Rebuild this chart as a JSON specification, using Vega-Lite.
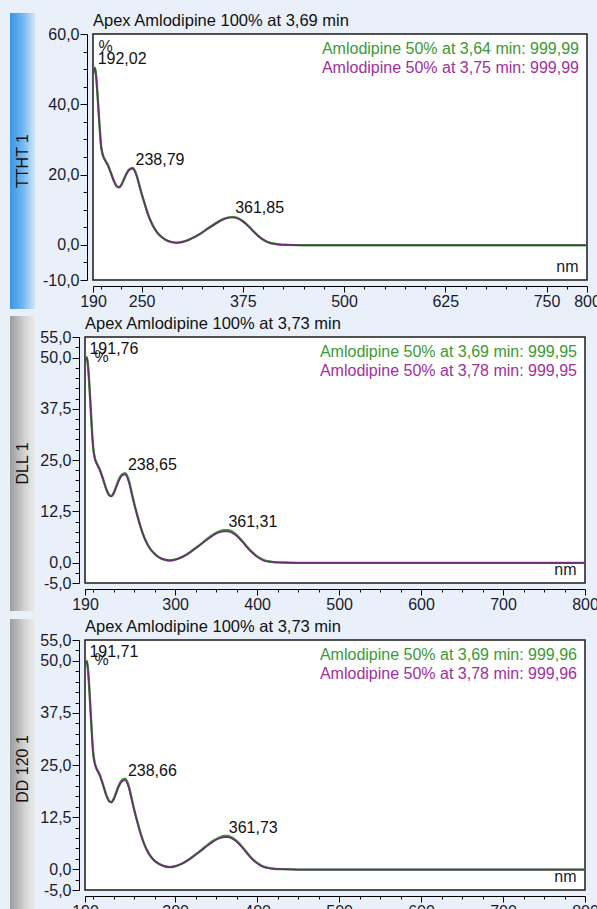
{
  "$schema": "https://vega.github.io/schema/vega-lite/v6.json",
  "background": "#e9f0fa",
  "padding": {"left": 10, "top": 12, "right": 0, "bottom": 0},
  "spacing": 5,
  "datasets": {
    "s1": [
      {"nm":190,"p":48.6,"g":48.7},{"nm":191,"p":49.9,"g":50.0},{"nm":192,"p":50.3,"g":50.4},{"nm":193,"p":49.6,"g":49.7},
      {"nm":194,"p":47.6,"g":47.7},{"nm":195,"p":44.6,"g":44.7},{"nm":196,"p":41.1,"g":41.2},{"nm":197,"p":37.6,"g":37.7},
      {"nm":198,"p":34.1,"g":34.2},{"nm":199,"p":30.7,"g":30.8},{"nm":200,"p":28.1,"g":28.2},{"nm":202,"p":25.6,"g":25.7},
      {"nm":205,"p":24.0,"g":24.1},{"nm":208,"p":22.8,"g":22.9},{"nm":212,"p":20.5,"g":20.6},{"nm":216,"p":18.0,"g":18.1},
      {"nm":219,"p":16.7,"g":16.8},{"nm":222,"p":16.3,"g":16.4},{"nm":225,"p":17.0,"g":17.1},{"nm":228,"p":18.5,"g":18.6},
      {"nm":231,"p":20.0,"g":20.1},{"nm":234,"p":21.1,"g":21.3},{"nm":237,"p":21.6,"g":21.8},{"nm":239,"p":21.7,"g":21.9},
      {"nm":241,"p":21.2,"g":21.4},{"nm":244,"p":19.5,"g":19.7},{"nm":247,"p":17.0,"g":17.2},{"nm":250,"p":14.5,"g":14.6},
      {"nm":254,"p":11.5,"g":11.6},{"nm":258,"p":8.6,"g":8.7},{"nm":262,"p":6.3,"g":6.4},{"nm":266,"p":4.6,"g":4.6},
      {"nm":270,"p":3.3,"g":3.3},{"nm":275,"p":2.2,"g":2.2},{"nm":280,"p":1.4,"g":1.4},{"nm":287,"p":0.8,"g":0.8},
      {"nm":294,"p":0.6,"g":0.6},{"nm":300,"p":0.8,"g":0.8},{"nm":308,"p":1.4,"g":1.4},{"nm":316,"p":2.3,"g":2.3},
      {"nm":324,"p":3.4,"g":3.4},{"nm":332,"p":4.6,"g":4.7},{"nm":340,"p":5.8,"g":5.9},{"nm":347,"p":6.8,"g":6.9},
      {"nm":354,"p":7.5,"g":7.6},{"nm":360,"p":7.8,"g":7.9},{"nm":364,"p":7.8,"g":7.9},{"nm":368,"p":7.6,"g":7.7},
      {"nm":373,"p":7.0,"g":7.1},{"nm":378,"p":6.1,"g":6.2},{"nm":383,"p":5.0,"g":5.1},{"nm":388,"p":3.8,"g":3.9},
      {"nm":393,"p":2.7,"g":2.8},{"nm":398,"p":1.8,"g":1.8},{"nm":403,"p":1.1,"g":1.1},{"nm":408,"p":0.6,"g":0.6},
      {"nm":414,"p":0.3,"g":0.3},{"nm":420,"p":0.1,"g":0.1},{"nm":430,"p":0.0,"g":0.0},{"nm":450,"p":-0.1,"g":-0.1},
      {"nm":500,"p":-0.1,"g":-0.1},{"nm":600,"p":-0.1,"g":-0.1},{"nm":700,"p":-0.1,"g":-0.1},{"nm":800,"p":-0.1,"g":-0.1}
    ],
    "s2": [
      {"nm":190,"p":49.2,"g":49.3},{"nm":191,"p":49.8,"g":49.9},{"nm":192,"p":50.0,"g":50.1},{"nm":193,"p":49.1,"g":49.2},
      {"nm":194,"p":47.1,"g":47.2},{"nm":195,"p":44.2,"g":44.3},{"nm":196,"p":40.8,"g":40.9},{"nm":197,"p":37.3,"g":37.4},
      {"nm":198,"p":33.8,"g":33.9},{"nm":199,"p":30.5,"g":30.6},{"nm":200,"p":27.9,"g":28.0},{"nm":202,"p":25.4,"g":25.5},
      {"nm":205,"p":23.8,"g":23.9},{"nm":208,"p":22.6,"g":22.7},{"nm":212,"p":20.3,"g":20.4},{"nm":216,"p":17.8,"g":17.9},
      {"nm":219,"p":16.5,"g":16.6},{"nm":222,"p":16.1,"g":16.2},{"nm":225,"p":16.8,"g":17.0},{"nm":228,"p":18.3,"g":18.5},
      {"nm":231,"p":19.8,"g":20.1},{"nm":234,"p":20.9,"g":21.2},{"nm":237,"p":21.4,"g":21.7},{"nm":239,"p":21.5,"g":21.8},
      {"nm":241,"p":21.0,"g":21.3},{"nm":244,"p":19.3,"g":19.6},{"nm":247,"p":16.8,"g":17.0},{"nm":250,"p":14.3,"g":14.4},
      {"nm":254,"p":11.3,"g":11.4},{"nm":258,"p":8.5,"g":8.6},{"nm":262,"p":6.2,"g":6.3},{"nm":266,"p":4.5,"g":4.5},
      {"nm":270,"p":3.2,"g":3.2},{"nm":275,"p":2.1,"g":2.1},{"nm":280,"p":1.3,"g":1.3},{"nm":287,"p":0.7,"g":0.7},
      {"nm":294,"p":0.5,"g":0.5},{"nm":300,"p":0.7,"g":0.7},{"nm":308,"p":1.3,"g":1.3},{"nm":316,"p":2.2,"g":2.2},
      {"nm":324,"p":3.3,"g":3.4},{"nm":332,"p":4.5,"g":4.6},{"nm":340,"p":5.7,"g":5.9},{"nm":347,"p":6.7,"g":6.9},
      {"nm":354,"p":7.4,"g":7.6},{"nm":360,"p":7.6,"g":7.9},{"nm":364,"p":7.6,"g":7.9},{"nm":368,"p":7.4,"g":7.7},
      {"nm":373,"p":6.8,"g":7.0},{"nm":378,"p":5.9,"g":6.1},{"nm":383,"p":4.8,"g":5.0},{"nm":388,"p":3.6,"g":3.8},
      {"nm":393,"p":2.6,"g":2.7},{"nm":398,"p":1.7,"g":1.8},{"nm":403,"p":1.0,"g":1.1},{"nm":408,"p":0.5,"g":0.6},
      {"nm":414,"p":0.2,"g":0.3},{"nm":420,"p":0.1,"g":0.1},{"nm":430,"p":0.0,"g":0.0},{"nm":450,"p":-0.1,"g":-0.1},
      {"nm":500,"p":-0.1,"g":-0.1},{"nm":600,"p":-0.1,"g":-0.1},{"nm":700,"p":-0.1,"g":-0.1},{"nm":800,"p":-0.1,"g":-0.1}
    ],
    "s3": [
      {"nm":190,"p":49.1,"g":49.2},{"nm":191,"p":49.8,"g":49.9},{"nm":192,"p":49.9,"g":50.0},{"nm":193,"p":49.0,"g":49.1},
      {"nm":194,"p":47.0,"g":47.1},{"nm":195,"p":44.1,"g":44.2},{"nm":196,"p":40.7,"g":40.8},{"nm":197,"p":37.2,"g":37.3},
      {"nm":198,"p":33.7,"g":33.8},{"nm":199,"p":30.4,"g":30.5},{"nm":200,"p":27.8,"g":27.9},{"nm":202,"p":25.3,"g":25.4},
      {"nm":205,"p":23.7,"g":23.8},{"nm":208,"p":22.5,"g":22.6},{"nm":212,"p":20.2,"g":20.3},{"nm":216,"p":17.7,"g":17.8},
      {"nm":219,"p":16.4,"g":16.5},{"nm":222,"p":16.0,"g":16.1},{"nm":225,"p":16.7,"g":16.9},{"nm":228,"p":18.2,"g":18.4},
      {"nm":231,"p":19.7,"g":20.0},{"nm":234,"p":20.8,"g":21.1},{"nm":237,"p":21.3,"g":21.6},{"nm":239,"p":21.4,"g":21.7},
      {"nm":241,"p":20.9,"g":21.2},{"nm":244,"p":19.2,"g":19.5},{"nm":247,"p":16.7,"g":16.9},{"nm":250,"p":14.2,"g":14.3},
      {"nm":254,"p":11.2,"g":11.3},{"nm":258,"p":8.4,"g":8.5},{"nm":262,"p":6.1,"g":6.2},{"nm":266,"p":4.4,"g":4.4},
      {"nm":270,"p":3.1,"g":3.1},{"nm":275,"p":2.0,"g":2.0},{"nm":280,"p":1.3,"g":1.3},{"nm":287,"p":0.7,"g":0.7},
      {"nm":294,"p":0.5,"g":0.5},{"nm":300,"p":0.7,"g":0.7},{"nm":308,"p":1.3,"g":1.3},{"nm":316,"p":2.2,"g":2.2},
      {"nm":324,"p":3.3,"g":3.4},{"nm":332,"p":4.5,"g":4.6},{"nm":340,"p":5.7,"g":5.9},{"nm":347,"p":6.7,"g":6.9},
      {"nm":354,"p":7.4,"g":7.6},{"nm":360,"p":7.7,"g":8.0},{"nm":364,"p":7.7,"g":8.0},{"nm":368,"p":7.5,"g":7.7},
      {"nm":373,"p":6.9,"g":7.1},{"nm":378,"p":6.0,"g":6.2},{"nm":383,"p":4.9,"g":5.1},{"nm":388,"p":3.7,"g":3.9},
      {"nm":393,"p":2.6,"g":2.7},{"nm":398,"p":1.7,"g":1.8},{"nm":403,"p":1.0,"g":1.1},{"nm":408,"p":0.5,"g":0.6},
      {"nm":414,"p":0.2,"g":0.3},{"nm":420,"p":0.1,"g":0.1},{"nm":430,"p":0.0,"g":0.0},{"nm":450,"p":-0.1,"g":-0.1},
      {"nm":500,"p":-0.1,"g":-0.1},{"nm":600,"p":-0.1,"g":-0.1},{"nm":700,"p":-0.1,"g":-0.1},{"nm":800,"p":-0.1,"g":-0.1}
    ],
    "k1": [{"nm":192.02,"v":50.3,"label":"192,02"},{"nm":238.79,"v":21.7,"label":"238,79"},{"nm":361.85,"v":7.8,"label":"361,85"}],
    "k2": [{"nm":191.76,"v":50.0,"label":"191,76"},{"nm":238.65,"v":21.5,"label":"238,65"},{"nm":361.31,"v":7.6,"label":"361,31"}],
    "k3": [{"nm":191.71,"v":49.9,"label":"191,71"},{"nm":238.66,"v":21.4,"label":"238,66"},{"nm":361.73,"v":7.7,"label":"361,73"}],
    "g1": [{"label":"Amlodipine 50% at 3,64 min: 999,99"}],
    "p1": [{"label":"Amlodipine 50% at 3,75 min: 999,99"}],
    "g2": [{"label":"Amlodipine 50% at 3,69 min: 999,95"}],
    "p2": [{"label":"Amlodipine 50% at 3,78 min: 999,95"}],
    "g3": [{"label":"Amlodipine 50% at 3,69 min: 999,96"}],
    "p3": [{"label":"Amlodipine 50% at 3,78 min: 999,96"}],
    "one": [{"k": 1}]
  },
  "vconcat": [
    {
      "spacing": 5,
      "hconcat": [
        {
          "width": 25, "height": 296, "view": {"stroke": null},
          "data": {"values": [{"tab": "TTHT 1"}]},
          "layer": [
            {"mark": {"type": "rect", "color": {"gradient": "linear", "x1": 0, "x2": 1, "y1": 0, "y2": 0,
              "stops": [{"offset": 0, "color": "#3a96e5"}, {"offset": 0.5, "color": "#6fb5ef"}, {"offset": 0.85, "color": "#b4d8f6"}, {"offset": 1, "color": "#cfe5f9"}]}}, "encoding": {}},
            {"mark": {"type": "text", "angle": 270, "fontSize": 16, "color": "#111", "align": "center", "baseline": "middle"}, "encoding": {"text": {"field": "tab"}}}
          ]
        },
        {"spacing": 0, "bounds": "flush", "vconcat": [
          {"width": 494, "height": 21, "view": {"stroke": null, "fill": null},
           "title": {"text": "Apex Amlodipine 100% at 3,69 min"},
           "data": {"name": "one"}, "mark": {"type": "rect", "opacity": 0}, "encoding": {}},
          {
          "width": 494, "height": 246,
          "layer": [
            {"data": {"name": "s1"}, "transform": [{"fold": ["g", "p"], "as": ["series", "v"]}],
             "mark": {"type": "line", "interpolate": "monotone", "clip": true},
             "encoding": {
               "x": {"field": "nm", "type": "quantitative", "scale": {"domain": [190, 800], "nice": false, "zero": false},
                 "axis": {"values": [190,200,225,250,275,300,325,350,375,400,425,450,475,500,525,550,575,600,625,650,675,700,725,750,775,800],
                   "labelExpr": "indexof([190,250,375,500,625,750,800], datum.value) >= 0 ? datum.label : ''",
                   "tickSize": {"condition": {"test": "indexof([190,250,375,500,625,750,800], datum.value) >= 0", "value": 6}, "value": 3},
                   "title": "nm", "titleX": 485, "titleY": -20, "titleAlign": "right", "titleBaseline": "middle", "titleAngle": 0}},
               "y": {"field": "v", "type": "quantitative", "scale": {"domain": [-10, 60], "nice": false, "zero": false},
                 "axis": {"values": [-10,-5,0,5,10,15,20,25,30,35,40,45,50,55,60],
                   "labelExpr": "indexof([60,40,20,0,-10], datum.value) >= 0 ? replace(replace(format(datum.value, '.1f'), '.', ','), '\u2212', '-') : ''",
                   "tickSize": {"condition": {"test": "indexof([60,40,20,0,-10], datum.value) >= 0", "value": 7}, "value": 4},
                   "title": "%", "titleAngle": 0, "titleX": 11, "titleY": 12, "titleAlign": "left", "titleBaseline": "middle",
                   "minExtent": 46, "maxExtent": 46}},
               "color": {"field": "series", "type": "nominal", "scale": {"domain": ["g", "p"], "range": ["#3c9a32", "#6e2a78"]}, "legend": null},
               "strokeWidth": {"field": "series", "type": "nominal", "scale": {"domain": ["g", "p"], "range": [2.4, 1.6]}, "legend": null}}},
            {"data": {"name": "k1"}, "mark": {"type": "text", "align": "left", "baseline": "alphabetic", "dx": 3, "dy": -4, "color": "#111"},
             "encoding": {
               "x": {"field": "nm", "type": "quantitative", "scale": {"domain": [190, 800], "nice": false, "zero": false},
                 "axis": {"values": [190,200,225,250,275,300,325,350,375,400,425,450,475,500,525,550,575,600,625,650,675,700,725,750,775,800],
                   "labelExpr": "indexof([190,250,375,500,625,750,800], datum.value) >= 0 ? datum.label : ''",
                   "tickSize": {"condition": {"test": "indexof([190,250,375,500,625,750,800], datum.value) >= 0", "value": 6}, "value": 3},
                   "title": "nm", "titleX": 485, "titleY": -20, "titleAlign": "right", "titleBaseline": "middle", "titleAngle": 0}},
               "y": {"field": "v", "type": "quantitative", "scale": {"domain": [-10, 60], "nice": false, "zero": false},
                 "axis": {"values": [-10,-5,0,5,10,15,20,25,30,35,40,45,50,55,60],
                   "labelExpr": "indexof([60,40,20,0,-10], datum.value) >= 0 ? replace(replace(format(datum.value, '.1f'), '.', ','), '\u2212', '-') : ''",
                   "tickSize": {"condition": {"test": "indexof([60,40,20,0,-10], datum.value) >= 0", "value": 7}, "value": 4},
                   "title": "%", "titleAngle": 0, "titleX": 11, "titleY": 12, "titleAlign": "left", "titleBaseline": "middle",
                   "minExtent": 46, "maxExtent": 46}},
               "text": {"field": "label"}}},
            {"data": {"name": "g1"},
             "mark": {"type": "text", "align": "right", "baseline": "middle", "dx": -8, "dy": 15, "color": "#3c9a32"},
             "encoding": {
               "x": {"datum": 800, "type": "quantitative", "scale": {"domain": [190, 800], "nice": false, "zero": false},
                 "axis": {"values": [190,200,225,250,275,300,325,350,375,400,425,450,475,500,525,550,575,600,625,650,675,700,725,750,775,800],
                   "labelExpr": "indexof([190,250,375,500,625,750,800], datum.value) >= 0 ? datum.label : ''",
                   "tickSize": {"condition": {"test": "indexof([190,250,375,500,625,750,800], datum.value) >= 0", "value": 6}, "value": 3},
                   "title": "nm", "titleX": 485, "titleY": -20, "titleAlign": "right", "titleBaseline": "middle", "titleAngle": 0}},
               "y": {"datum": 60, "type": "quantitative", "scale": {"domain": [-10, 60], "nice": false, "zero": false},
                 "axis": {"values": [-10,-5,0,5,10,15,20,25,30,35,40,45,50,55,60],
                   "labelExpr": "indexof([60,40,20,0,-10], datum.value) >= 0 ? replace(replace(format(datum.value, '.1f'), '.', ','), '\u2212', '-') : ''",
                   "tickSize": {"condition": {"test": "indexof([60,40,20,0,-10], datum.value) >= 0", "value": 7}, "value": 4},
                   "title": "%", "titleAngle": 0, "titleX": 11, "titleY": 12, "titleAlign": "left", "titleBaseline": "middle",
                   "minExtent": 46, "maxExtent": 46}},
               "text": {"field": "label"}}},
            {"data": {"name": "p1"},
             "mark": {"type": "text", "align": "right", "baseline": "middle", "dx": -8, "dy": 34, "color": "#a0309e"},
             "encoding": {
               "x": {"datum": 800, "type": "quantitative", "scale": {"domain": [190, 800], "nice": false, "zero": false},
                 "axis": {"values": [190,200,225,250,275,300,325,350,375,400,425,450,475,500,525,550,575,600,625,650,675,700,725,750,775,800],
                   "labelExpr": "indexof([190,250,375,500,625,750,800], datum.value) >= 0 ? datum.label : ''",
                   "tickSize": {"condition": {"test": "indexof([190,250,375,500,625,750,800], datum.value) >= 0", "value": 6}, "value": 3},
                   "title": "nm", "titleX": 485, "titleY": -20, "titleAlign": "right", "titleBaseline": "middle", "titleAngle": 0}},
               "y": {"datum": 60, "type": "quantitative", "scale": {"domain": [-10, 60], "nice": false, "zero": false},
                 "axis": {"values": [-10,-5,0,5,10,15,20,25,30,35,40,45,50,55,60],
                   "labelExpr": "indexof([60,40,20,0,-10], datum.value) >= 0 ? replace(replace(format(datum.value, '.1f'), '.', ','), '\u2212', '-') : ''",
                   "tickSize": {"condition": {"test": "indexof([60,40,20,0,-10], datum.value) >= 0", "value": 7}, "value": 4},
                   "title": "%", "titleAngle": 0, "titleX": 11, "titleY": 12, "titleAlign": "left", "titleBaseline": "middle",
                   "minExtent": 46, "maxExtent": 46}},
               "text": {"field": "label"}}}
          ]
        }]}
      ]
    },
    {
      "spacing": 3,
      "hconcat": [
        {
          "width": 25, "height": 295, "view": {"stroke": null},
          "data": {"values": [{"tab": "DLL 1"}]},
          "layer": [
            {"mark": {"type": "rect", "color": {"gradient": "linear", "x1": 0, "x2": 1, "y1": 0, "y2": 0,
              "stops": [{"offset": 0, "color": "#9c9c9c"}, {"offset": 0.6, "color": "#d4d4d4"}, {"offset": 1, "color": "#ebebeb"}]}}, "encoding": {}},
            {"mark": {"type": "text", "angle": 270, "fontSize": 16, "color": "#111", "align": "center", "baseline": "middle"}, "encoding": {"text": {"field": "tab"}}}
          ]
        },
        {"spacing": 0, "bounds": "flush", "vconcat": [
          {"width": 500, "height": 21, "view": {"stroke": null, "fill": null},
           "title": {"text": "Apex Amlodipine 100% at 3,73 min"},
           "data": {"name": "one"}, "mark": {"type": "rect", "opacity": 0}, "encoding": {}},
          {
          "width": 500, "height": 246,
          "layer": [
            {"data": {"name": "s2"}, "transform": [{"fold": ["g", "p"], "as": ["series", "v"]}],
             "mark": {"type": "line", "interpolate": "monotone", "clip": true},
             "encoding": {
               "x": {"field": "nm", "type": "quantitative", "scale": {"domain": [190, 800], "nice": false, "zero": false},
                 "axis": {"values": [190,200,225,250,275,300,325,350,375,400,425,450,475,500,525,550,575,600,625,650,675,700,725,750,775,800],
                   "labelExpr": "indexof([190,300,400,500,600,700,800], datum.value) >= 0 ? datum.label : ''",
                   "tickSize": {"condition": {"test": "indexof([190,300,400,500,600,700,800], datum.value) >= 0", "value": 6}, "value": 3},
                   "title": "nm", "titleX": 491, "titleY": -20, "titleAlign": "right", "titleBaseline": "middle", "titleAngle": 0}},
               "y": {"field": "v", "type": "quantitative", "scale": {"domain": [-5, 55], "nice": false, "zero": false},
                 "axis": {"values": [-5,-2.5,0,2.5,5,7.5,10,12.5,15,17.5,20,22.5,25,27.5,30,32.5,35,37.5,40,42.5,45,47.5,50,52.5,55],
                   "labelExpr": "indexof([55,50,37.5,25,12.5,0,-5], datum.value) >= 0 ? replace(replace(format(datum.value, '.1f'), '.', ','), '\u2212', '-') : ''",
                   "tickSize": {"condition": {"test": "indexof([55,50,37.5,25,12.5,0,-5], datum.value) >= 0", "value": 7}, "value": 4},
                   "title": "%", "titleAngle": 0, "titleX": 15, "titleY": 19, "titleAlign": "left", "titleBaseline": "middle",
                   "minExtent": 40, "maxExtent": 40}},
               "color": {"field": "series", "type": "nominal", "scale": {"domain": ["g", "p"], "range": ["#3c9a32", "#6e2a78"]}, "legend": null},
               "strokeWidth": {"field": "series", "type": "nominal", "scale": {"domain": ["g", "p"], "range": [2.4, 1.6]}, "legend": null}}},
            {"data": {"name": "k2"}, "mark": {"type": "text", "align": "left", "baseline": "alphabetic", "dx": 3, "dy": -4, "color": "#111"},
             "encoding": {
               "x": {"field": "nm", "type": "quantitative", "scale": {"domain": [190, 800], "nice": false, "zero": false},
                 "axis": {"values": [190,200,225,250,275,300,325,350,375,400,425,450,475,500,525,550,575,600,625,650,675,700,725,750,775,800],
                   "labelExpr": "indexof([190,300,400,500,600,700,800], datum.value) >= 0 ? datum.label : ''",
                   "tickSize": {"condition": {"test": "indexof([190,300,400,500,600,700,800], datum.value) >= 0", "value": 6}, "value": 3},
                   "title": "nm", "titleX": 491, "titleY": -20, "titleAlign": "right", "titleBaseline": "middle", "titleAngle": 0}},
               "y": {"field": "v", "type": "quantitative", "scale": {"domain": [-5, 55], "nice": false, "zero": false},
                 "axis": {"values": [-5,-2.5,0,2.5,5,7.5,10,12.5,15,17.5,20,22.5,25,27.5,30,32.5,35,37.5,40,42.5,45,47.5,50,52.5,55],
                   "labelExpr": "indexof([55,50,37.5,25,12.5,0,-5], datum.value) >= 0 ? replace(replace(format(datum.value, '.1f'), '.', ','), '\u2212', '-') : ''",
                   "tickSize": {"condition": {"test": "indexof([55,50,37.5,25,12.5,0,-5], datum.value) >= 0", "value": 7}, "value": 4},
                   "title": "%", "titleAngle": 0, "titleX": 15, "titleY": 19, "titleAlign": "left", "titleBaseline": "middle",
                   "minExtent": 40, "maxExtent": 40}},
               "text": {"field": "label"}}},
            {"data": {"name": "g2"},
             "mark": {"type": "text", "align": "right", "baseline": "middle", "dx": -8, "dy": 15, "color": "#3c9a32"},
             "encoding": {
               "x": {"datum": 800, "type": "quantitative", "scale": {"domain": [190, 800], "nice": false, "zero": false},
                 "axis": {"values": [190,200,225,250,275,300,325,350,375,400,425,450,475,500,525,550,575,600,625,650,675,700,725,750,775,800],
                   "labelExpr": "indexof([190,300,400,500,600,700,800], datum.value) >= 0 ? datum.label : ''",
                   "tickSize": {"condition": {"test": "indexof([190,300,400,500,600,700,800], datum.value) >= 0", "value": 6}, "value": 3},
                   "title": "nm", "titleX": 491, "titleY": -20, "titleAlign": "right", "titleBaseline": "middle", "titleAngle": 0}},
               "y": {"datum": 55, "type": "quantitative", "scale": {"domain": [-5, 55], "nice": false, "zero": false},
                 "axis": {"values": [-5,-2.5,0,2.5,5,7.5,10,12.5,15,17.5,20,22.5,25,27.5,30,32.5,35,37.5,40,42.5,45,47.5,50,52.5,55],
                   "labelExpr": "indexof([55,50,37.5,25,12.5,0,-5], datum.value) >= 0 ? replace(replace(format(datum.value, '.1f'), '.', ','), '\u2212', '-') : ''",
                   "tickSize": {"condition": {"test": "indexof([55,50,37.5,25,12.5,0,-5], datum.value) >= 0", "value": 7}, "value": 4},
                   "title": "%", "titleAngle": 0, "titleX": 15, "titleY": 19, "titleAlign": "left", "titleBaseline": "middle",
                   "minExtent": 40, "maxExtent": 40}},
               "text": {"field": "label"}}},
            {"data": {"name": "p2"},
             "mark": {"type": "text", "align": "right", "baseline": "middle", "dx": -8, "dy": 34, "color": "#a0309e"},
             "encoding": {
               "x": {"datum": 800, "type": "quantitative", "scale": {"domain": [190, 800], "nice": false, "zero": false},
                 "axis": {"values": [190,200,225,250,275,300,325,350,375,400,425,450,475,500,525,550,575,600,625,650,675,700,725,750,775,800],
                   "labelExpr": "indexof([190,300,400,500,600,700,800], datum.value) >= 0 ? datum.label : ''",
                   "tickSize": {"condition": {"test": "indexof([190,300,400,500,600,700,800], datum.value) >= 0", "value": 6}, "value": 3},
                   "title": "nm", "titleX": 491, "titleY": -20, "titleAlign": "right", "titleBaseline": "middle", "titleAngle": 0}},
               "y": {"datum": 55, "type": "quantitative", "scale": {"domain": [-5, 55], "nice": false, "zero": false},
                 "axis": {"values": [-5,-2.5,0,2.5,5,7.5,10,12.5,15,17.5,20,22.5,25,27.5,30,32.5,35,37.5,40,42.5,45,47.5,50,52.5,55],
                   "labelExpr": "indexof([55,50,37.5,25,12.5,0,-5], datum.value) >= 0 ? replace(replace(format(datum.value, '.1f'), '.', ','), '\u2212', '-') : ''",
                   "tickSize": {"condition": {"test": "indexof([55,50,37.5,25,12.5,0,-5], datum.value) >= 0", "value": 7}, "value": 4},
                   "title": "%", "titleAngle": 0, "titleX": 15, "titleY": 19, "titleAlign": "left", "titleBaseline": "middle",
                   "minExtent": 40, "maxExtent": 40}},
               "text": {"field": "label"}}}
          ]
        }]}
      ]
    },
    {
      "spacing": 3,
      "hconcat": [
        {
          "width": 25, "height": 300, "view": {"stroke": null},
          "data": {"values": [{"tab": "DD 120 1"}]},
          "layer": [
            {"mark": {"type": "rect", "color": {"gradient": "linear", "x1": 0, "x2": 1, "y1": 0, "y2": 0,
              "stops": [{"offset": 0, "color": "#9c9c9c"}, {"offset": 0.6, "color": "#d4d4d4"}, {"offset": 1, "color": "#ebebeb"}]}}, "encoding": {}},
            {"mark": {"type": "text", "angle": 270, "fontSize": 16, "color": "#111", "align": "center", "baseline": "middle"}, "encoding": {"text": {"field": "tab"}}}
          ]
        },
        {"spacing": 0, "bounds": "flush", "vconcat": [
          {"width": 500, "height": 21, "view": {"stroke": null, "fill": null},
           "title": {"text": "Apex Amlodipine 100% at 3,73 min"},
           "data": {"name": "one"}, "mark": {"type": "rect", "opacity": 0}, "encoding": {}},
          {
          "width": 500, "height": 250,
          "layer": [
            {"data": {"name": "s3"}, "transform": [{"fold": ["g", "p"], "as": ["series", "v"]}],
             "mark": {"type": "line", "interpolate": "monotone", "clip": true},
             "encoding": {
               "x": {"field": "nm", "type": "quantitative", "scale": {"domain": [190, 800], "nice": false, "zero": false},
                 "axis": {"values": [190,200,225,250,275,300,325,350,375,400,425,450,475,500,525,550,575,600,625,650,675,700,725,750,775,800],
                   "labelExpr": "indexof([190,300,400,500,600,700,800], datum.value) >= 0 ? datum.label : ''",
                   "tickSize": {"condition": {"test": "indexof([190,300,400,500,600,700,800], datum.value) >= 0", "value": 6}, "value": 3},
                   "title": "nm", "titleX": 491, "titleY": -20, "titleAlign": "right", "titleBaseline": "middle", "titleAngle": 0}},
               "y": {"field": "v", "type": "quantitative", "scale": {"domain": [-5, 55], "nice": false, "zero": false},
                 "axis": {"values": [-5,-2.5,0,2.5,5,7.5,10,12.5,15,17.5,20,22.5,25,27.5,30,32.5,35,37.5,40,42.5,45,47.5,50,52.5,55],
                   "labelExpr": "indexof([55,50,37.5,25,12.5,0,-5], datum.value) >= 0 ? replace(replace(format(datum.value, '.1f'), '.', ','), '\u2212', '-') : ''",
                   "tickSize": {"condition": {"test": "indexof([55,50,37.5,25,12.5,0,-5], datum.value) >= 0", "value": 7}, "value": 4},
                   "title": "%", "titleAngle": 0, "titleX": 15, "titleY": 19, "titleAlign": "left", "titleBaseline": "middle",
                   "minExtent": 40, "maxExtent": 40}},
               "color": {"field": "series", "type": "nominal", "scale": {"domain": ["g", "p"], "range": ["#3c9a32", "#6e2a78"]}, "legend": null},
               "strokeWidth": {"field": "series", "type": "nominal", "scale": {"domain": ["g", "p"], "range": [2.4, 1.6]}, "legend": null}}},
            {"data": {"name": "k3"}, "mark": {"type": "text", "align": "left", "baseline": "alphabetic", "dx": 3, "dy": -4, "color": "#111"},
             "encoding": {
               "x": {"field": "nm", "type": "quantitative", "scale": {"domain": [190, 800], "nice": false, "zero": false},
                 "axis": {"values": [190,200,225,250,275,300,325,350,375,400,425,450,475,500,525,550,575,600,625,650,675,700,725,750,775,800],
                   "labelExpr": "indexof([190,300,400,500,600,700,800], datum.value) >= 0 ? datum.label : ''",
                   "tickSize": {"condition": {"test": "indexof([190,300,400,500,600,700,800], datum.value) >= 0", "value": 6}, "value": 3},
                   "title": "nm", "titleX": 491, "titleY": -20, "titleAlign": "right", "titleBaseline": "middle", "titleAngle": 0}},
               "y": {"field": "v", "type": "quantitative", "scale": {"domain": [-5, 55], "nice": false, "zero": false},
                 "axis": {"values": [-5,-2.5,0,2.5,5,7.5,10,12.5,15,17.5,20,22.5,25,27.5,30,32.5,35,37.5,40,42.5,45,47.5,50,52.5,55],
                   "labelExpr": "indexof([55,50,37.5,25,12.5,0,-5], datum.value) >= 0 ? replace(replace(format(datum.value, '.1f'), '.', ','), '\u2212', '-') : ''",
                   "tickSize": {"condition": {"test": "indexof([55,50,37.5,25,12.5,0,-5], datum.value) >= 0", "value": 7}, "value": 4},
                   "title": "%", "titleAngle": 0, "titleX": 15, "titleY": 19, "titleAlign": "left", "titleBaseline": "middle",
                   "minExtent": 40, "maxExtent": 40}},
               "text": {"field": "label"}}},
            {"data": {"name": "g3"},
             "mark": {"type": "text", "align": "right", "baseline": "middle", "dx": -8, "dy": 15, "color": "#3c9a32"},
             "encoding": {
               "x": {"datum": 800, "type": "quantitative", "scale": {"domain": [190, 800], "nice": false, "zero": false},
                 "axis": {"values": [190,200,225,250,275,300,325,350,375,400,425,450,475,500,525,550,575,600,625,650,675,700,725,750,775,800],
                   "labelExpr": "indexof([190,300,400,500,600,700,800], datum.value) >= 0 ? datum.label : ''",
                   "tickSize": {"condition": {"test": "indexof([190,300,400,500,600,700,800], datum.value) >= 0", "value": 6}, "value": 3},
                   "title": "nm", "titleX": 491, "titleY": -20, "titleAlign": "right", "titleBaseline": "middle", "titleAngle": 0}},
               "y": {"datum": 55, "type": "quantitative", "scale": {"domain": [-5, 55], "nice": false, "zero": false},
                 "axis": {"values": [-5,-2.5,0,2.5,5,7.5,10,12.5,15,17.5,20,22.5,25,27.5,30,32.5,35,37.5,40,42.5,45,47.5,50,52.5,55],
                   "labelExpr": "indexof([55,50,37.5,25,12.5,0,-5], datum.value) >= 0 ? replace(replace(format(datum.value, '.1f'), '.', ','), '\u2212', '-') : ''",
                   "tickSize": {"condition": {"test": "indexof([55,50,37.5,25,12.5,0,-5], datum.value) >= 0", "value": 7}, "value": 4},
                   "title": "%", "titleAngle": 0, "titleX": 15, "titleY": 19, "titleAlign": "left", "titleBaseline": "middle",
                   "minExtent": 40, "maxExtent": 40}},
               "text": {"field": "label"}}},
            {"data": {"name": "p3"},
             "mark": {"type": "text", "align": "right", "baseline": "middle", "dx": -8, "dy": 34, "color": "#a0309e"},
             "encoding": {
               "x": {"datum": 800, "type": "quantitative", "scale": {"domain": [190, 800], "nice": false, "zero": false},
                 "axis": {"values": [190,200,225,250,275,300,325,350,375,400,425,450,475,500,525,550,575,600,625,650,675,700,725,750,775,800],
                   "labelExpr": "indexof([190,300,400,500,600,700,800], datum.value) >= 0 ? datum.label : ''",
                   "tickSize": {"condition": {"test": "indexof([190,300,400,500,600,700,800], datum.value) >= 0", "value": 6}, "value": 3},
                   "title": "nm", "titleX": 491, "titleY": -20, "titleAlign": "right", "titleBaseline": "middle", "titleAngle": 0}},
               "y": {"datum": 55, "type": "quantitative", "scale": {"domain": [-5, 55], "nice": false, "zero": false},
                 "axis": {"values": [-5,-2.5,0,2.5,5,7.5,10,12.5,15,17.5,20,22.5,25,27.5,30,32.5,35,37.5,40,42.5,45,47.5,50,52.5,55],
                   "labelExpr": "indexof([55,50,37.5,25,12.5,0,-5], datum.value) >= 0 ? replace(replace(format(datum.value, '.1f'), '.', ','), '\u2212', '-') : ''",
                   "tickSize": {"condition": {"test": "indexof([55,50,37.5,25,12.5,0,-5], datum.value) >= 0", "value": 7}, "value": 4},
                   "title": "%", "titleAngle": 0, "titleX": 15, "titleY": 19, "titleAlign": "left", "titleBaseline": "middle",
                   "minExtent": 40, "maxExtent": 40}},
               "text": {"field": "label"}}}
          ]
        }]}
      ]
    }
  ],
  "config": {
    "font": "Liberation Sans",
    "view": {"stroke": "#1a1a1a", "strokeWidth": 1.5, "fill": "white"},
    "axis": {"grid": false, "domainColor": "#000", "tickColor": "#000", "labelColor": "#1a1a2e", "labelFontSize": 16,
      "labelFont": "Liberation Sans", "titleFont": "Liberation Sans", "titleFontWeight": "normal", "titleFontSize": 16, "titleColor": "#1a1a2e",
      "labelOverlap": false, "labelFlush": false, "offset": 6, "labelPadding": 1},
    "title": {"fontSize": 16.5, "fontWeight": "normal", "color": "#111", "anchor": "start", "frame": "group", "baseline": "alphabetic", "offset": -16, "font": "Liberation Sans"},
    "text": {"font": "Liberation Sans", "fontSize": 16}
  }
}
